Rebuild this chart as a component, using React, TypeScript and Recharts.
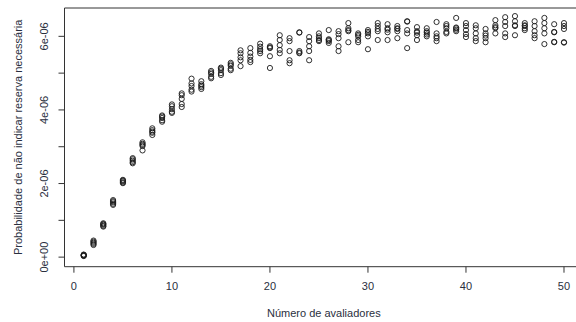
import React from "react";
import {
  ScatterChart,
  Scatter,
  XAxis,
  YAxis,
  ReferenceArea,
} from "recharts";

// number of evaluators (x) and five simulated runs of the probability, in units of 1e-06
const evaluators = [
  1, 2, 3, 4, 5, 6, 7, 8, 9, 10, 11, 12, 13, 14, 15, 16, 17, 18, 19, 20, 21, 22, 23, 24, 25,
  26, 27, 28, 29, 30, 31, 32, 33, 34, 35, 36, 37, 38, 39, 40, 41, 42, 43, 44, 45, 46, 47, 48, 49, 50,
];

const run1 = [
  0.07, 0.42, 0.9, 1.52, 2.08, 2.66, 3.08, 3.45, 3.85, 4.1, 4.45, 4.85, 4.78, 5.06, 5.15, 5.28, 5.62,
  5.68, 5.8, 5.73, 6.03, 5.95, 6.11, 5.98, 6.08, 6.17, 6.14, 6.36, 6.08, 6.17, 6.36, 6.33, 6.28, 6.41,
  6.25, 6.22, 6.39, 6.33, 6.5, 6.36, 6.3, 6.2, 6.44, 6.52, 6.55, 6.36, 6.41, 6.5, 6.33, 6.36,
];
const run2 = [
  0.05, 0.36, 0.85, 1.45, 2.03, 2.58, 3.02, 3.38, 3.72, 3.95, 4.3, 4.55, 4.62, 4.9, 5.0, 5.12, 5.43,
  5.45, 5.6, 5.46, 5.76, 5.6, 5.56, 5.73, 5.9, 5.87, 5.95, 6.17, 5.9, 6.0, 6.14, 6.11, 6.14, 6.08,
  6.03, 6.0, 5.95, 6.08, 6.14, 6.06, 6.08, 5.95, 6.22, 6.28, 6.28, 6.28, 6.14, 6.22, 6.11, 6.2,
];
const run3 = [
  0.04, 0.39, 0.92, 1.49, 2.06, 2.62, 2.9, 3.32, 3.78, 4.15, 4.08, 4.65, 4.7, 4.98, 5.08, 5.2, 5.54,
  5.55, 5.65, 5.68, 5.9, 5.87, 5.54, 5.87, 6.0, 5.92, 6.06, 6.22, 6.0, 6.08, 6.28, 6.22, 6.22, 6.17,
  6.14, 6.14, 6.08, 6.22, 6.22, 6.28, 6.22, 6.08, 6.3, 6.39, 6.41, 6.3, 6.28, 6.36, 5.84, 6.28,
];
const run4 = [
  0.06, 0.33, 0.83, 1.42, 2.01, 2.55, 3.05, 3.41, 3.68, 4.02, 4.4, 4.5, 4.57, 4.86, 4.95, 5.08, 5.19,
  5.3, 5.54, 5.14, 5.54, 5.27, 5.6, 5.35, 5.87, 5.82, 5.6, 5.84, 5.84, 5.65, 5.9, 5.9, 5.95, 5.68,
  5.9, 6.1, 5.87, 6.28, 6.18, 5.98, 5.87, 5.84, 6.08, 5.98, 6.03, 6.17, 5.95, 5.79, 6.12, 5.84,
];
const run5 = [
  0.03, 0.45, 0.88, 1.55, 2.1, 2.69, 3.12, 3.5, 3.82, 3.92, 4.16, 4.72, 4.66, 5.02, 5.12, 5.24, 5.35,
  5.36, 5.72, 5.7, 5.63, 5.35, 6.1, 5.6, 5.95, 5.9, 5.73, 6.14, 6.04, 6.12, 6.2, 6.18, 6.2, 6.4,
  6.1, 6.05, 6.0, 6.12, 6.24, 6.17, 5.95, 6.02, 6.25, 6.08, 6.3, 6.22, 6.03, 6.08, 5.85, 5.83,
];

const yTicks = [0, 1, 2, 3, 4, 5, 6];
const yLabels = ["0e+00", "", "2e-06", "", "4e-06", "", "6e-06"];
const xTicks = [0, 10, 20, 30, 40, 50];

const runs = [run1, run2, run3, run4, run5];
const points = evaluators.flatMap((n, i) => runs.map((r) => ({ x: n, y: r[i] })));

const INK = "#2a2f40";
const FONT = "'Liberation Sans', Arial, sans-serif";
const X_DOMAIN: [number, number] = [-0.96, 51.96];
const Y_DOMAIN: [number, number] = [-0.26, 6.77];

const OpenCircle = (props: any) => (
  <circle cx={props.cx} cy={props.cy} r={2.6} fill="none" stroke="#1a1a1a" strokeWidth={0.9} />
);

const YTick = (props: any) => {
  const { x, y, payload } = props;
  const label = yLabels[yTicks.indexOf(payload.value)];
  if (!label) return null;
  return (
    <text
      x={x}
      y={y}
      transform={`rotate(-90, ${x}, ${y})`}
      textAnchor="middle"
      dy="0.35em"
      fontSize={11}
      fontFamily={FONT}
      fill={INK}
    >
      {label}
    </text>
  );
};

const YTitle = (props: any) => {
  const { x, y, height } = props.viewBox;
  const cx = x + 18;
  const cy = y + height / 2;
  return (
    <text
      x={cx}
      y={cy}
      transform={`rotate(-90, ${cx}, ${cy})`}
      textAnchor="middle"
      dy="0.35em"
      fontSize={11}
      fontFamily={FONT}
      fill={INK}
    >
      Probabilidade de não indicar reserva necessária
    </text>
  );
};

const XTitle = (props: any) => {
  const { x, y, width } = props.viewBox;
  return (
    <text
      x={x + width / 2}
      y={y + 46}
      textAnchor="middle"
      dy="0.35em"
      fontSize={11}
      fontFamily={FONT}
      fill={INK}
    >
      Número de avaliadores
    </text>
  );
};

export default function App() {
  return (
    <div
      style={{
        position: "absolute",
        left: 0,
        top: 0,
        width: 576,
        height: 322,
        overflow: "hidden",
        background: "#fff",
      }}
    >
      <ScatterChart
        width={600}
        height={322}
        margin={{ top: 8, right: 16.8, bottom: 0, left: 0 }}
      >
        <XAxis
          type="number"
          dataKey="x"
          domain={X_DOMAIN}
          ticks={xTicks}
          allowDataOverflow
          height={55.3}
          axisLine={false}
          tickLine={{ stroke: "#333" }}
          tickSize={6}
          tickMargin={9}
          tick={{ fontSize: 11, fontFamily: FONT, fill: INK }}
          label={<XTitle />}
        />
        <YAxis
          type="number"
          dataKey="y"
          domain={Y_DOMAIN}
          ticks={yTicks}
          allowDataOverflow
          width={64.5}
          axisLine={false}
          tickLine={{ stroke: "#333" }}
          tickSize={6}
          tickMargin={14}
          tick={<YTick />}
          label={<YTitle />}
        />
        <ReferenceArea
          x1={X_DOMAIN[0]}
          x2={X_DOMAIN[1]}
          y1={Y_DOMAIN[0]}
          y2={Y_DOMAIN[1]}
          fill="none"
          stroke="#333"
          strokeWidth={1}
          ifOverflow="visible"
        />
        <Scatter data={points} shape={<OpenCircle />} isAnimationActive={false} />
      </ScatterChart>
    </div>
  );
}
